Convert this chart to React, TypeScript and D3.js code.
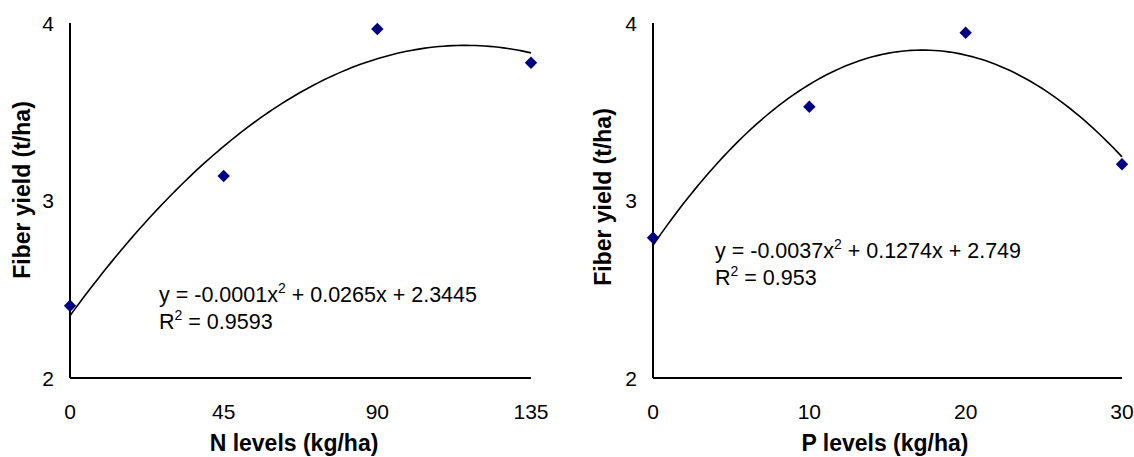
import React from "react";
import * as d3 from "d3";

const N_LEVELS = [0, 45, 90, 135];
const N_YIELD = [2.407, 3.138, 3.966, 3.776];
const P_LEVELS = [0, 10, 20, 30];
const P_YIELD = [2.79, 3.528, 3.945, 3.204];
const N_TICKS = [0, 45, 90, 135];
const P_TICKS = [0, 10, 20, 30];
const Y_TICKS = [2, 3, 4];
const Y_TITLE = "Fiber yield (t/ha)";
const N_TITLE = "N levels (kg/ha)";
const P_TITLE = "P levels (kg/ha)";
const N_EQ = ["y = -0.0001x", " + 0.0265x + 2.3445"];
const N_R2 = " = 0.9593";
const P_EQ = ["y = -0.0037x", " + 0.1274x + 2.749"];
const P_R2 = " = 0.953";

const FONT = "'Liberation Sans', Arial, Helvetica, sans-serif";

// least-squares quadratic fit (Excel-style polynomial trendline)
function quadFit(xs: number[], ys: number[]) {
  const n = xs.length;
  const s = [0, 0, 0, 0, 0];
  const t = [0, 0, 0];
  for (let i = 0; i < n; i++) {
    const x = xs[i], y = ys[i];
    for (let k = 0; k <= 4; k++) s[k] += Math.pow(x, k);
    for (let k = 0; k <= 2; k++) t[k] += Math.pow(x, k) * y;
  }
  const M = [
    [s[0], s[1], s[2], t[0]],
    [s[1], s[2], s[3], t[1]],
    [s[2], s[3], s[4], t[2]],
  ];
  for (let c = 0; c < 3; c++) {
    let p = c;
    for (let r = c + 1; r < 3; r++) if (Math.abs(M[r][c]) > Math.abs(M[p][c])) p = r;
    [M[c], M[p]] = [M[p], M[c]];
    for (let r = 0; r < 3; r++) {
      if (r === c) continue;
      const f = M[r][c] / M[c][c];
      for (let k = c; k < 4; k++) M[r][k] -= f * M[c][k];
    }
  }
  const c0 = M[0][3] / M[0][0];
  const c1 = M[1][3] / M[1][1];
  const c2 = M[2][3] / M[2][2];
  return (x: number) => c0 + c1 * x + c2 * x * x;
}

type PanelProps = {
  xs: number[];
  ys: number[];
  xTicks: number[];
  x0: number;
  x1: number;
  xTitle: string;
  xTitleX: number;
  yTitleX: number;
  yTitleY: number;
  eq: string[];
  r2: string;
  eqX: number;
  eqY: number;
};

function Panel(p: PanelProps) {
  const x = d3.scaleLinear().domain([p.xTicks[0], p.xTicks[p.xTicks.length - 1]]).range([p.x0, p.x1]);
  const y = d3.scaleLinear().domain([2, 4]).range([378, 23]);
  const fit = quadFit(p.xs, p.ys);
  const [d0, d1] = x.domain();
  const samples = d3.range(0, 101).map((i) => d0 + ((d1 - d0) * i) / 100);
  const line = d3
    .line<number>()
    .x((v) => x(v))
    .y((v) => y(fit(v)))
    .curve(d3.curveLinear);
  const diamond = d3.symbol().type(d3.symbolDiamond2).size(98)();
  return (
    <g fontFamily={FONT}>
      <line x1={p.x0} x2={p.x0} y1={y(4)} y2={y(2)} stroke="#000" strokeWidth={2} />
      <line x1={p.x0} x2={p.x1} y1={y(2)} y2={y(2)} stroke="#000" strokeWidth={2} />
      {Y_TICKS.map((t) => (
        <text key={t} x={p.x0 - 16} y={y(t)} dy="0.36em" textAnchor="end" fontSize={21} fill="#000">
          {t}
        </text>
      ))}
      {p.xTicks.map((t) => (
        <text key={t} x={x(t)} y={419} textAnchor="middle" fontSize={21} fill="#000">
          {t}
        </text>
      ))}
      <text x={p.xTitleX} y={451} textAnchor="middle" fontSize={23} fontWeight="bold" fill="#000">
        {p.xTitle}
      </text>
      <text
        transform={`translate(${p.yTitleX},${p.yTitleY}) rotate(-90)`}
        textAnchor="middle"
        fontSize={23}
        fontWeight="bold"
        fill="#000"
      >
        {Y_TITLE}
      </text>
      <path d={line(samples) || ""} fill="none" stroke="#000" strokeWidth={1.6} />
      {p.xs.map((v, i) => (
        <path key={i} d={diamond || ""} transform={`translate(${x(v)},${y(p.ys[i])})`} fill="#000080" />
      ))}
      <text x={p.eqX} y={p.eqY} fontSize={21.5} fill="#000">
        {p.eq[0]}
        <tspan fontSize={14} dy={-9}>2</tspan>
        <tspan dy={9}>{p.eq[1]}</tspan>
      </text>
      <text x={p.eqX} y={p.eqY + 27} fontSize={21.5} fill="#000">
        R<tspan fontSize={14} dy={-9}>2</tspan>
        <tspan dy={9}>{p.r2}</tspan>
      </text>
    </g>
  );
}

export default function App() {
  return (
    <svg
      width={1134}
      height={457}
      style={{ position: "absolute", left: 0, top: 0, background: "#fff" }}
    >
      <rect x={0} y={0} width={1134} height={457} fill="#fff" />
      <Panel
        xs={N_LEVELS}
        ys={N_YIELD}
        xTicks={N_TICKS}
        x0={70}
        x1={531}
        xTitle={N_TITLE}
        xTitleX={294}
        yTitleX={30}
        yTitleY={190}
        eq={N_EQ}
        r2={N_R2}
        eqX={159}
        eqY={301.5}
      />
      <Panel
        xs={P_LEVELS}
        ys={P_YIELD}
        xTicks={P_TICKS}
        x0={653}
        x1={1122}
        xTitle={P_TITLE}
        xTitleX={885}
        yTitleX={611}
        yTitleY={197}
        eq={P_EQ}
        r2={P_R2}
        eqX={715}
        eqY={258}
      />
    </svg>
  );
}
